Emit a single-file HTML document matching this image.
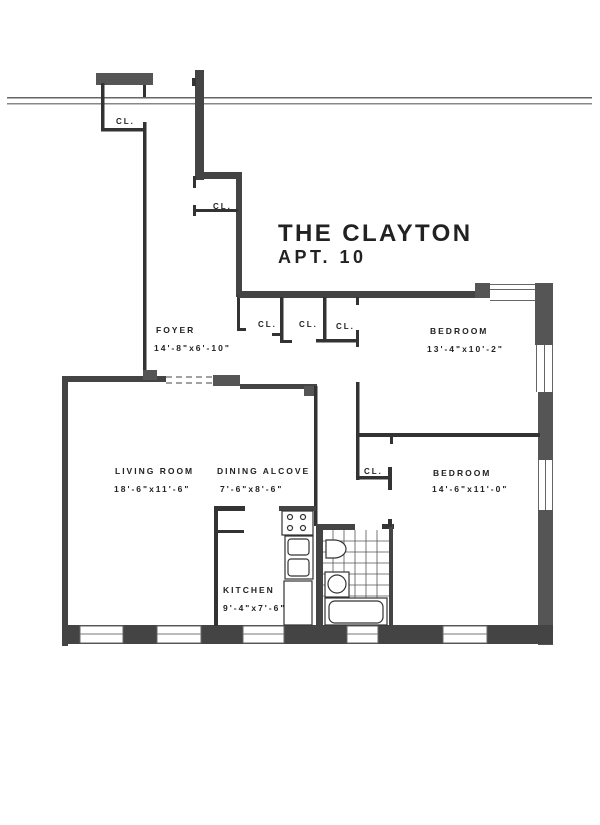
<!DOCTYPE html>
<html><head><style>
html,body{margin:0;padding:0;background:#fff;}
svg{display:block;}
text{font-family:"Liberation Sans",sans-serif;font-weight:bold;fill:#222;}
.s{font-size:8.5px;letter-spacing:2px;}
</style></head><body>
<svg width="600" height="825" viewBox="0 0 600 825" xmlns="http://www.w3.org/2000/svg">
<g fill="#333" stroke="none">
<rect x="7" y="97" width="585" height="1.5" fill="#666"/>
<rect x="7" y="103" width="585" height="1.5" fill="#888"/>
<rect x="96" y="73" width="57" height="12" fill="#555"/>
<rect x="143" y="85" width="3" height="12"/>
<rect x="101" y="83" width="3.5" height="48"/>
<rect x="101" y="128" width="45" height="3.5"/>
<rect x="143" y="122" width="3.5" height="258"/>
<rect x="195" y="70" width="9" height="110" fill="#444"/>
<rect x="192" y="78" width="4" height="8"/>
<rect x="195" y="172" width="47" height="7" fill="#444"/>
<rect x="193" y="176" width="3" height="12"/>
<rect x="236" y="175" width="6" height="122" fill="#444"/>
<rect x="193" y="209" width="45" height="3"/>
<rect x="193" y="205" width="3" height="11"/>
<rect x="237" y="295" width="3" height="36"/>
<rect x="237" y="328" width="9" height="3"/>
<rect x="238" y="291" width="252" height="7" fill="#444"/>
<rect x="475" y="283" width="15" height="15" fill="#555"/>
<rect x="490" y="284" width="45" height="1" fill="#666"/>
<rect x="490" y="289" width="45" height="1" fill="#666"/>
<rect x="490" y="300" width="45" height="1" fill="#666"/>
<rect x="535" y="283" width="18" height="62" fill="#555"/>
<rect x="536" y="345" width="1" height="47" fill="#666"/>
<rect x="544" y="345" width="1" height="47" fill="#666"/>
<rect x="552" y="345" width="1" height="47" fill="#666"/>
<rect x="538" y="392" width="15" height="68" fill="#555"/>
<rect x="538" y="460" width="1" height="50" fill="#666"/>
<rect x="545" y="460" width="1" height="50" fill="#666"/>
<rect x="552" y="460" width="1" height="50" fill="#666"/>
<rect x="538" y="510" width="15" height="135" fill="#555"/>
<rect x="280" y="297" width="3.5" height="45"/>
<rect x="272" y="333" width="10" height="3"/>
<rect x="280" y="340" width="12" height="3"/>
<rect x="323" y="297" width="3.5" height="43"/>
<rect x="316" y="339" width="42" height="3.5"/>
<rect x="356" y="330" width="3" height="17"/>
<rect x="356" y="297" width="3" height="8"/>
<rect x="356" y="382" width="3.5" height="98"/>
<rect x="356" y="433" width="184" height="4"/>
<rect x="390" y="436" width="3" height="8"/>
<rect x="356" y="476" width="33" height="3.5"/>
<rect x="388" y="467" width="4" height="23"/>
<rect x="62" y="376" width="104" height="6" fill="#444"/>
<rect x="143" y="370" width="14" height="10" fill="#555"/>
<rect x="213" y="375" width="27" height="11" fill="#555"/>
<rect x="240" y="384" width="77" height="5" fill="#444"/>
<rect x="304" y="386" width="13" height="10" fill="#555"/>
<rect x="314" y="386" width="3.5" height="140"/>
<rect x="62" y="376" width="6" height="270" fill="#444"/>
<line x1="166" y1="377" x2="213" y2="377" stroke="#444" stroke-width="1" stroke-dasharray="6,4"/>
<line x1="166" y1="383" x2="213" y2="383" stroke="#444" stroke-width="1" stroke-dasharray="6,4"/>
<rect x="62" y="625" width="491" height="19" fill="#444"/>
<rect x="214" y="506" width="31" height="5"/>
<rect x="214" y="506" width="4" height="120"/>
<rect x="218" y="530" width="26" height="3"/>
<rect x="279" y="506" width="37" height="5" fill="#444"/>
<rect x="316" y="524" width="7" height="102" fill="#444"/>
<rect x="316" y="524" width="39" height="6" fill="#444"/>
<rect x="382" y="524" width="12" height="5"/>
<rect x="389" y="524" width="4" height="102" fill="#444"/>
<rect x="388" y="519" width="4" height="8"/>
</g>
<g fill="#fff" stroke="#666" stroke-width="1">
<rect x="80" y="626" width="43" height="17"/>
<rect x="157" y="626" width="44" height="17"/>
<rect x="243" y="626" width="41" height="17"/>
<rect x="347" y="626" width="31" height="17"/>
<rect x="443" y="626" width="44" height="17"/>
</g>
<g stroke="#777" stroke-width="1">
<line x1="80" y1="634" x2="123" y2="634"/><line x1="157" y1="634" x2="201" y2="634"/>
<line x1="243" y1="634" x2="284" y2="634"/><line x1="347" y1="634" x2="378" y2="634"/>
<line x1="443" y1="634" x2="487" y2="634"/>
</g>
<g fill="none" stroke="#333" stroke-width="1.2">
<rect x="282" y="511" width="31" height="24"/>
<circle cx="290" cy="517" r="2.5"/><circle cx="303" cy="517" r="2.5"/>
<circle cx="290" cy="528" r="2.5"/><circle cx="303" cy="528" r="2.5"/>
<rect x="285" y="536" width="28" height="43"/>
<rect x="288" y="539" width="21" height="16" rx="3"/>
<rect x="288" y="559" width="21" height="17" rx="3"/>
<rect x="284" y="581" width="28" height="44"/>
<g stroke="#555" stroke-width="0.8">
<line x1="323" y1="541" x2="389" y2="541"/><line x1="323" y1="552" x2="389" y2="552"/>
<line x1="323" y1="563" x2="389" y2="563"/><line x1="323" y1="574" x2="389" y2="574"/>
<line x1="323" y1="585" x2="389" y2="585"/><line x1="323" y1="596" x2="389" y2="596"/>
<line x1="333" y1="530" x2="333" y2="600"/><line x1="344" y1="530" x2="344" y2="600"/>
<line x1="355" y1="530" x2="355" y2="600"/><line x1="366" y1="530" x2="366" y2="600"/>
<line x1="377" y1="530" x2="377" y2="600"/>
</g>
<path d="M326 540 h8 a12 9 0 1 1 0 18 h-8 z" fill="#fff"/>
<rect x="325" y="572" width="24" height="25" fill="#fff"/>
<circle cx="337" cy="584" r="9" fill="#fff"/>
<rect x="325" y="598" width="62" height="27" fill="#fff"/>
<rect x="329" y="601" width="54" height="22" rx="6" fill="#fff"/>
</g>
<text x="278" y="241" font-size="24" letter-spacing="2.4">THE CLAYTON</text>
<text x="278" y="263" font-size="18" letter-spacing="3.5">APT. 10</text>
<text class="s" x="116" y="124" style="font-size:8px">CL.</text>
<text class="s" x="213" y="209" style="font-size:8px">CL.</text>
<text class="s" x="258" y="327" style="font-size:8px">CL.</text>
<text class="s" x="299" y="327" style="font-size:8px">CL.</text>
<text class="s" x="336" y="329" style="font-size:8px">CL.</text>
<text class="s" x="364" y="474" style="font-size:8px">CL.</text>
<text class="s" x="156" y="333">FOYER</text>
<text class="s" x="154" y="351">14'-8"x6'-10"</text>
<text class="s" x="430" y="334">BEDROOM</text>
<text class="s" x="427" y="352">13'-4"x10'-2"</text>
<text class="s" x="115" y="474">LIVING ROOM</text>
<text class="s" x="114" y="492">18'-6"x11'-6"</text>
<text class="s" x="217" y="474">DINING ALCOVE</text>
<text class="s" x="220" y="492">7'-6"x8'-6"</text>
<text class="s" x="433" y="476">BEDROOM</text>
<text class="s" x="432" y="492">14'-6"x11'-0"</text>
<text class="s" x="223" y="593">KITCHEN</text>
<text class="s" x="223" y="611">9'-4"x7'-6"</text>
</svg>
</body></html>
